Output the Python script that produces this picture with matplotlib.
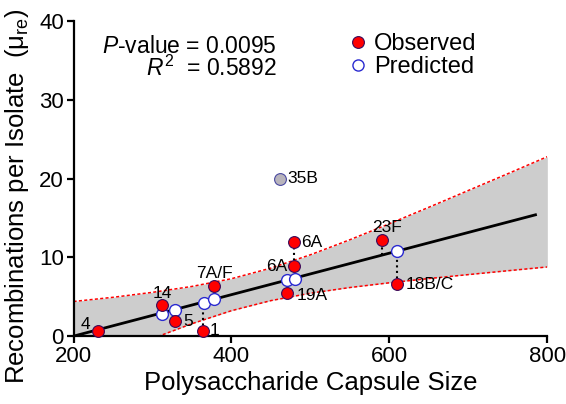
import matplotlib
matplotlib.use('Agg')
import matplotlib.pyplot as plt
from matplotlib.lines import Line2D

plt.rcParams['font.family'] = ['Liberation Sans', 'DejaVu Sans']
plt.rcParams['mathtext.fontset'] = 'custom'
plt.rcParams['mathtext.rm'] = 'Liberation Sans'
plt.rcParams['mathtext.it'] = 'Liberation Sans:italic'

# observed serotypes
obs_x = [231, 312, 329, 364, 378, 470, 479.5, 479.5, 591, 609]
obs_y = [0.64, 3.9, 1.9, 0.64, 6.3, 5.5, 8.85, 11.9, 12.2, 6.6]
obs_lab = ['4', '14', '5', '1', '7A/F', '19A', '6A', '6A', '23F', '18B/C']

# predicted by the model
pred_x = [312, 329, 365, 378, 470, 480, 609]
pred_y = [2.85, 3.3, 4.25, 4.7, 7.1, 7.3, 10.8]

# outlier
out_x = [462]
out_y = [20]
out_lab = ['35B']

# regression line and 95% band
fit_x = [200, 785]
fit_y = [0, 15.4]
band_x = [200, 250, 300, 350, 400, 450, 500, 550, 600, 650, 700, 750, 800]
band_hi = [4.4, 4.93, 5.56, 6.31, 7.29, 8.64, 10.33, 12.24, 14.27, 16.36, 18.49, 20.62, 22.78]
band_lo = [-4.4, -2.31, -0.30, 1.58, 3.23, 4.51, 5.45, 6.17, 6.77, 7.31, 7.81, 8.30, 8.78]

# dotted links observed <-> predicted
link_x = [364.5, 479.5, 591, 609]
link_lo = [0.64, 8.85, 10.3, 6.6]
link_hi = [4.25, 11.9, 12.2, 10.8]

# label offsets in pixels (dx, dy, ha)
lab_off = [(-13, 7, 'center'), (0, 12, 'center'), (8, 0, 'left'), (7, 1, 'left'),
           (0, 13, 'center'), (10, -3, 'left'), (-7, 0, 'right'), (7, 0, 'left'),
           (5, 13, 'center'), (9, 0, 'left')]

fig = plt.figure(figsize=(5.66, 4.04), dpi=100)
ax = fig.add_axes([0.13, 0.168, 0.837, 0.78])

ax.fill_between(band_x, band_lo, band_hi, color='#cdcdcd', lw=0, zorder=1)
ax.plot(band_x, band_hi, color='red', ls=(0, (2, 1.5)), lw=1.1, zorder=2)
ax.plot(band_x, band_lo, color='red', ls=(0, (2, 1.5)), lw=1.1, zorder=2)
ax.plot(fit_x, fit_y, color='black', lw=2, zorder=3)
ax.vlines(link_x, link_lo, link_hi, colors='black', linestyles=':', lw=1.5, zorder=3)

ax.plot(pred_x, pred_y, 'o', ms=8.5, mfc='white', mec='#2a2ad0', mew=1, zorder=4, clip_on=False)
ax.plot(obs_x, obs_y, 'o', ms=8.5, mfc='#ff0000', mec='#3a0a5a', mew=0.8, zorder=5, clip_on=False)
ax.plot(out_x, out_y, 'o', ms=8.5, mfc='#b8b4bc', mec='#4a4aa0', mew=0.8, zorder=5)

for x, y, t, (dx, dy, ha) in zip(obs_x, obs_y, obs_lab, lab_off):
    ax.annotate(t, (x, y), xytext=(dx, dy), textcoords='offset pixels',
                ha=ha, va='center', fontsize=12.5, zorder=6)
ax.annotate(out_lab[0], (out_x[0], out_y[0]), xytext=(6.5, 0), textcoords='offset pixels',
            ha='left', va='center', fontsize=12.5)

ax.set_xlim(200, 800)
ax.set_ylim(0, 40)
ax.set_xticks([200, 400, 600, 800])
ax.set_yticks([0, 10, 20, 30, 40])
ax.spines['top'].set_visible(False)
ax.spines['right'].set_visible(False)
ax.spines['left'].set_linewidth(1.6)
ax.spines['bottom'].set_linewidth(1.6)
ax.tick_params(width=1.6, length=5, labelsize=16, pad=2)
ax.set_xlabel('Polysaccharide Capsule Size', fontsize=18.5, labelpad=3)
fig.text(17 / 566, 0.515, r'Recombinations per Isolate  (μ$_{\rm re}$)', rotation=90,
         ha='center', va='center', fontsize=18.5)

fig.text(277 / 566, 1 - 53 / 404, r'$P$-value = 0.0095', ha='right', va='baseline', fontsize=16.5)
fig.text(277 / 566, 1 - 76 / 404, r'$R^2$  = 0.5892', ha='right', va='baseline', fontsize=16.5)

handles = [Line2D([], [], ls='', marker='o', ms=8.5, mfc='#ff0000', mec='#3a0a5a', mew=0.8),
           Line2D([], [], ls='', marker='o', ms=8, mfc='white', mec='#2a2ad0', mew=1)]
fig.legend(handles, ['Observed', 'Predicted'], loc='upper left', frameon=False,
           bbox_to_anchor=(348.3 / 566, 1 - 33 / 404), borderpad=0, borderaxespad=0,
           handlelength=0.8, handletextpad=0.29, labelspacing=0.05, fontsize=17)

fig.savefig('out.png', dpi=100)
